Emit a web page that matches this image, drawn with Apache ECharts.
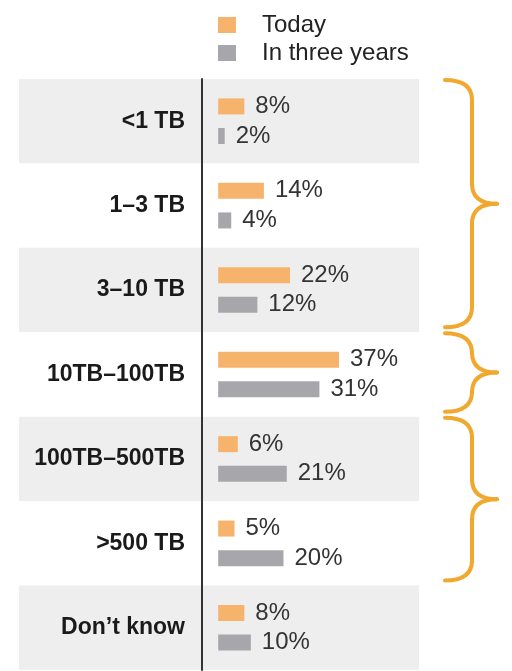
<!DOCTYPE html>
<html>
<head>
<meta charset="utf-8">
<title>Data volume</title>
<script src="https://cdn.jsdelivr.net/npm/echarts@6/dist/echarts.min.js"></script>
<style>
    html, body { margin: 0; padding: 0; background: #fff; }
    #chart_main { width: 512px; height: 671px; }
</style>
</head>
<body>
<div id="chart_main"></div>
<script>
// 分类
var categories = ['<1 TB', '1\u20133 TB', '3\u201310 TB', '10TB\u2013100TB', '100TB\u2013500TB', '>500 TB', 'Don\u2019t know'];
// 两个系列
var today_data = [8, 14, 22, 37, 6, 5, 8];
var three_years_data = [2, 4, 12, 31, 21, 20, 10];
var series_names = ['Today', 'In three years'];
// 右侧大括号分组（起止分类下标）
var brace_groups = [[0, 2], [3, 3], [4, 5]];

var label_font = 'Liberation Sans, Arial, sans-serif';

echart_main();

function echart_main() {
    var myChart = echarts.init(document.getElementById('chart_main'));
    var option = {
        animation: false,
        legend: {
            data: series_names,
            orient: 'vertical',
            left: 218,
            top: 13,
            padding: 0,
            itemWidth: 18,
            itemHeight: 16,
            itemGap: 4,
            icon: 'rect',
            textStyle: {
                fontFamily: label_font,
                fontSize: 24,
                lineHeight: 24,
                color: '#222',
                padding: [0, 0, 0, 21]
            }
        },
        grid: {
            left: 19,
            right: 93,
            top: 79,
            bottom: 1,
            outerBoundsMode: 'none'
        },
        xAxis: {
            type: 'value',
            min: -61,
            max: 61.5,
            show: false
        },
        yAxis: {
            type: 'category',
            data: categories,
            inverse: true,
            offset: -183,   //把轴线挪到标签右侧
            axisLine: { show: true, onZero: false, lineStyle: { color: '#333', width: 2 } },
            axisTick: { show: false },
            axisLabel: {
                margin: 17,
                fontFamily: label_font,
                fontWeight: 'bold',
                fontSize: 23,
                color: '#1a1a1a'
            },
            splitArea: {
                show: true,
                areaStyle: { color: ['#eeeeee', '#ffffff'] }
            }
        },
        series: [{
            name: series_names[0],
            type: 'bar',
            data: today_data,
            barWidth: 16,
            barGap: '85%',
            itemStyle: { color: '#f6b36c' },
            label: {
                show: true,
                position: 'right',
                distance: 11,
                formatter: '{c}%',
                fontFamily: label_font,
                fontSize: 24,
                color: '#333'
            }
        }, {
            name: series_names[1],
            type: 'bar',
            data: three_years_data,
            barWidth: 16,
            itemStyle: { color: '#a7a7ab' },
            label: {
                show: true,
                position: 'right',
                distance: 11,
                formatter: '{c}%',
                fontFamily: label_font,
                fontSize: 24,
                color: '#333'
            }
        }]
    };
    myChart.setOption(option);

    // 大括号，按分类的像素位置来画
    var c0 = myChart.convertToPixel({ yAxisIndex: 0 }, categories[0]);
    var c1 = myChart.convertToPixel({ yAxisIndex: 0 }, categories[1]);
    var band = c1 - c0;
    var x0 = 445, xs = 472, xt = 497, r = 20;
    var braceStyle = { stroke: '#f0a82e', lineWidth: 4, lineCap: 'round', fill: null };
    var elements = [];
    brace_groups.forEach(function (g) {
        var top = myChart.convertToPixel({ yAxisIndex: 0 }, categories[g[0]]) - band / 2 + 1;
        var bot = myChart.convertToPixel({ yAxisIndex: 0 }, categories[g[1]]) + band / 2 - 5;
        var mid = (top + bot) / 2;
        elements.push(
            { type: 'bezierCurve', shape: { x1: x0, y1: top, cpx1: xs, cpy1: top, x2: xs, y2: top + r }, style: braceStyle },
            { type: 'line', shape: { x1: xs, y1: top + r, x2: xs, y2: mid - r }, style: braceStyle },
            { type: 'bezierCurve', shape: { x1: xs, y1: mid - r, cpx1: xs, cpy1: mid, x2: xt, y2: mid }, style: braceStyle },
            { type: 'bezierCurve', shape: { x1: xt, y1: mid, cpx1: xs, cpy1: mid, x2: xs, y2: mid + r }, style: braceStyle },
            { type: 'line', shape: { x1: xs, y1: mid + r, x2: xs, y2: bot - r }, style: braceStyle },
            { type: 'bezierCurve', shape: { x1: xs, y1: bot - r, cpx1: xs, cpy1: bot, x2: x0, y2: bot }, style: braceStyle }
        );
    });
    myChart.setOption({ graphic: elements });
}
</script>
</body>
</html>
